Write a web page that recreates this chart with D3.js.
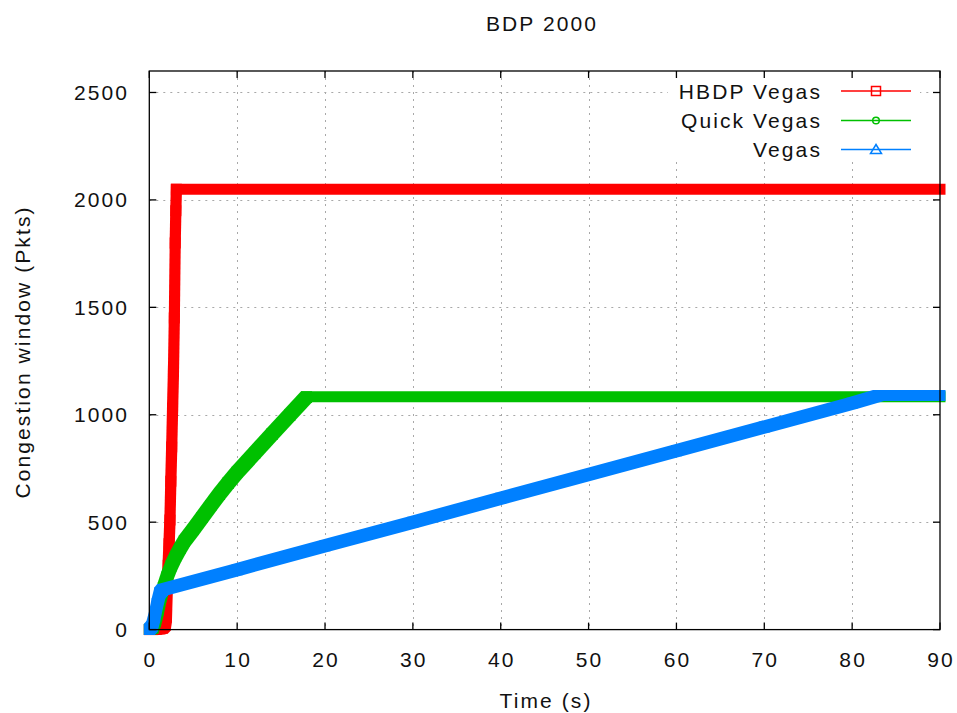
<!DOCTYPE html>
<html>
<head>
<meta charset="utf-8">
<script src="https://cdn.jsdelivr.net/npm/d3@7"></script>
<style>
  body { margin: 0; background: #fff; }
  text { font-family: "Liberation Sans", Arial, sans-serif; font-size: 21px; fill: #111; letter-spacing: 2.1px; }
</style>
</head>
<body>
<svg id="chart" width="957" height="713"></svg>
<script>
// Congestion window traces (time in s, cwnd in packets)
const chartTitle = "BDP 2000";
const xLabel = "Time (s)";
const yLabel = "Congestion window (Pkts)";
const seriesNames = ["HBDP Vegas", "Quick Vegas", "Vegas"];
const seriesColors = ["#ff0000", "#00c000", "#0080ff"];
const seriesMarkers = ["square", "circle", "triangle"];

const xTicks = [0, 10, 20, 30, 40, 50, 60, 70, 80, 90];
const yTicks = [0, 500, 1000, 1500, 2000, 2500];

const hbdpTime = [0, 0.4, 0.8, 1.2, 1.5, 1.8, 1.95, 2.05, 2.15, 2.25, 2.35, 2.45, 2.55, 2.65, 2.75, 2.85, 2.95, 3.02, 3.08, 90];
const hbdpCwnd = [0, 0, 2, 4, 8, 20, 60, 200, 300, 400, 510, 690, 850, 1030, 1200, 1450, 1800, 1950, 2050, 2050];

const quickTime = [0, 0.4, 0.7, 1.0, 1.3, 1.6, 2.0, 2.5, 3, 3.5, 4, 5, 6, 7, 8, 9, 10, 12, 14, 16, 17.9, 90];
const quickCwnd = [0, 8, 40, 90, 150, 195, 245, 297, 340, 378, 412, 466, 522, 578, 632, 684, 732, 822, 912, 1000, 1084, 1084];

const vegasTime = [0, 0.3, 0.6, 0.9, 1.2, 1.5, 10, 20, 30, 40, 50, 60, 70, 80, 83, 90];
const vegasCwnd = [0, 15, 60, 120, 170, 185, 279, 390, 500, 611, 722, 833, 943, 1054, 1090, 1090];

const seriesTimes = [hbdpTime, quickTime, vegasTime];
const seriesCwnds = [hbdpCwnd, quickCwnd, vegasCwnd];

const svg = d3.select("#chart");
const plot = { left: 149.3, right: 940, top: 71, bottom: 629.6 };

const x = d3.scaleLinear().domain([0, 90]).range([plot.left, plot.right]);
const y = d3.scaleLinear().domain([0, 2600]).range([plot.bottom, plot.top]);

// grid
const grid = svg.append("g").attr("stroke", "#a8a8a8").attr("stroke-width", 1)
  .attr("stroke-dasharray", "2,5");
grid.selectAll("line.gx").data(xTicks.filter(d => d > 0 && d < 90)).enter().append("line")
  .attr("x1", d => Math.round(x(d)) + 0.5).attr("x2", d => Math.round(x(d)) + 0.5)
  .attr("y1", plot.top).attr("y2", plot.bottom);
grid.selectAll("line.gy").data(yTicks.filter(d => d > 0)).enter().append("line")
  .attr("y1", d => Math.round(y(d)) + 0.5).attr("y2", d => Math.round(y(d)) + 0.5)
  .attr("x1", plot.left).attr("x2", plot.right);

// key background hides grid under the key
const keyBox = { x: 668, y: 76, w: 252, h: 86 };
svg.append("rect").attr("x", keyBox.x).attr("y", keyBox.y).attr("width", keyBox.w).attr("height", keyBox.h)
  .attr("fill", "#fff");

// traces: dense point markers merge into a band; each segment is swept by a square pen
const pen = 5.5;
seriesNames.forEach((name, i) => {
  const pts = seriesTimes[i].map((t, k) => [x(t), y(seriesCwnds[i][k])]);
  const g = svg.append("g").attr("fill", seriesColors[i]);
  for (let k = 0; k < pts.length - 1; k++) {
    const [a, b] = [pts[k], pts[k + 1]];
    const corners = [];
    [a, b].forEach(p => {
      corners.push([p[0] - pen, p[1] - pen], [p[0] + pen, p[1] - pen],
                   [p[0] + pen, p[1] + pen], [p[0] - pen, p[1] + pen]);
    });
    const hull = d3.polygonHull(corners);
    g.append("path").attr("d", "M" + hull.join("L") + "Z");
  }
});

// frame and inward ticks on all sides
const axisG = svg.append("g").attr("stroke", "#000").attr("stroke-width", 1.3).attr("fill", "none");
axisG.append("rect").attr("x", plot.left).attr("y", plot.top)
  .attr("width", plot.right - plot.left).attr("height", plot.bottom - plot.top);
const tl = 7;
xTicks.forEach(d => {
  axisG.append("line").attr("x1", x(d)).attr("x2", x(d)).attr("y1", plot.bottom).attr("y2", plot.bottom - tl);
  axisG.append("line").attr("x1", x(d)).attr("x2", x(d)).attr("y1", plot.top).attr("y2", plot.top + tl);
});
yTicks.forEach(d => {
  axisG.append("line").attr("y1", y(d)).attr("y2", y(d)).attr("x1", plot.left).attr("x2", plot.left + tl);
  axisG.append("line").attr("y1", y(d)).attr("y2", y(d)).attr("x1", plot.right).attr("x2", plot.right - tl);
});

// tick labels
svg.selectAll("text.xt").data(xTicks).enter().append("text")
  .attr("x", d => x(d) + 1).attr("y", 667).attr("text-anchor", "middle").text(d => d);
svg.selectAll("text.yt").data(yTicks).enter().append("text")
  .attr("x", 129).attr("y", d => y(d) + 7.5).attr("text-anchor", "end").text(d => d);

// titles
svg.append("text").attr("x", 542).attr("y", 31).attr("text-anchor", "middle").text(chartTitle);
svg.append("text").attr("x", 546).attr("y", 708).attr("text-anchor", "middle").text(xLabel);
svg.append("text").attr("transform", "translate(30,352) rotate(-90)").attr("text-anchor", "middle").text(yLabel);

// key
function marker(sel, type, cx, cy, color) {
  if (type === "square") {
    sel.append("rect").attr("x", cx - 4.5).attr("y", cy - 4.5).attr("width", 9).attr("height", 9)
      .attr("fill", "none").attr("stroke", color).attr("stroke-width", 1.5);
  } else if (type === "circle") {
    sel.append("circle").attr("cx", cx).attr("cy", cy).attr("r", 3.3)
      .attr("fill", "none").attr("stroke", color).attr("stroke-width", 1.5);
  } else {
    sel.append("path").attr("d", `M${cx},${cy - 5}L${cx + 5.5},${cy + 4}L${cx - 5.5},${cy + 4}Z`)
      .attr("fill", "none").attr("stroke", color).attr("stroke-width", 1.5);
  }
}
const keyRows = [91, 120.5, 149.5];
seriesNames.forEach((name, i) => {
  const ry = keyRows[i];
  svg.append("text").attr("x", 822).attr("y", ry + 7.5).attr("text-anchor", "end").text(name);
  svg.append("line").attr("x1", 841).attr("x2", 911).attr("y1", ry).attr("y2", ry)
    .attr("stroke", seriesColors[i]).attr("stroke-width", 1.7);
  marker(svg, seriesMarkers[i], 876, ry, seriesColors[i]);
});
</script>
</body>
</html>
